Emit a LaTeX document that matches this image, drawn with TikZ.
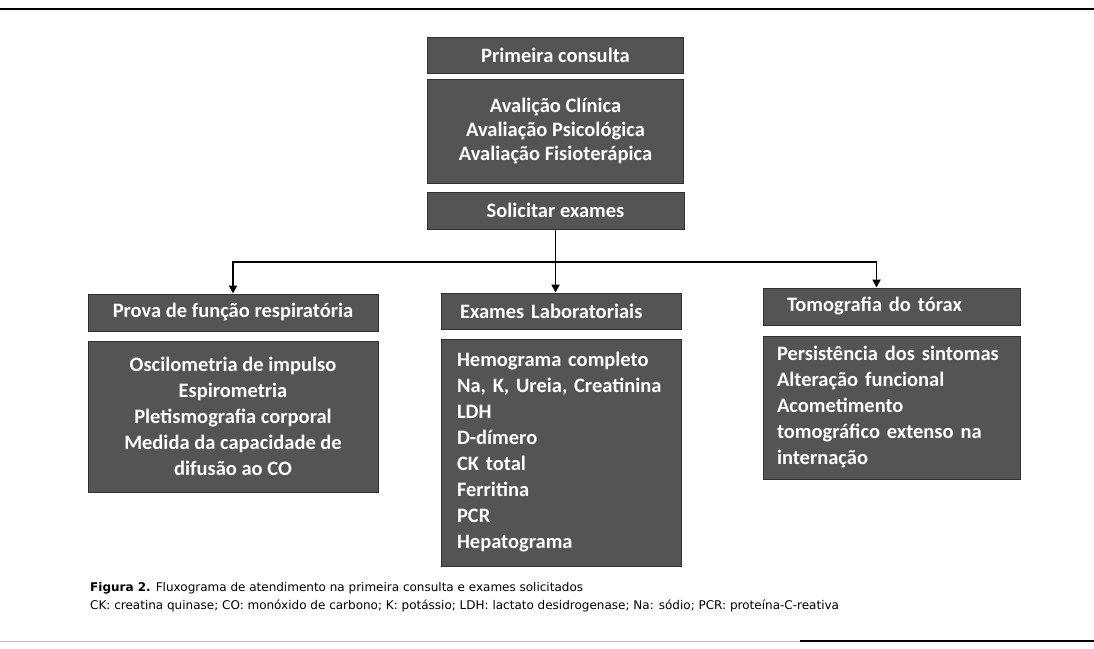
\documentclass[tikz,border=0pt]{standalone}
\usepackage{fontspec}
\newfontfamily\boxfont{Carlito}
\newfontfamily\capfont{DejaVu Sans}
\usetikzlibrary{positioning, arrows.meta}
\definecolor{boxgray}{RGB}{84,84,84}
\definecolor{boxedge}{RGB}{48,48,48}

\begin{document}
\begin{tikzpicture}[
    x=1pt, y=-1pt,
    >={Triangle[length=8pt, width=8pt]}, node distance=9pt,
    box/.style={draw=boxedge, line width=1pt, fill=boxgray, text=white, inner sep=0pt,
        align=center, font=\boxfont\bfseries\fontsize{20.5}{26}\selectfont},
    head/.style={box, minimum height=37pt},
    link/.style={->, line width=1.8pt}
]
    \useasboundingbox (0,0) rectangle (1094,648);

    % Rules of the figure
    \draw[line width=2.5pt] (0,9) -- (1094,9);
    \draw[line width=1pt, black!25] (0,641) -- (800,641);
    \draw[line width=2.5pt] (800,641) -- (1094,641);

    % First visit
    \node[head, minimum width=256pt, minimum height=36pt] (consulta) at (555.5,55) {Primeira consulta};
    \node[box, minimum width=256pt, minimum height=104pt, below=5pt of consulta,
          font=\boxfont\bfseries\fontsize{20.5}{24}\selectfont] (avaliacao)
        {Avalição Clínica\\ Avaliação Psicológica\\ Avaliação Fisioterápica};
    \node[head, minimum width=257pt, below=8pt of avaliacao] (solicitar) {Solicitar exames};

    % Branches
    \node[head, minimum width=290pt] (prova) at (233,312.5) {Prova de função respiratória};
    \node[box, minimum width=290pt, minimum height=151pt, below=of prova] (provaitens)
        {Oscilometria de impulso\\ Espirometria\\ Pletismografia corporal\\ Medida da capacidade de\\ difusão ao CO};

    \node[head, minimum height=36pt, text width=202pt, inner xsep=19pt, align=left] (lab) at (561,311) {Exames Laboratoriais};
    \node[box, minimum height=227pt, text width=208pt, inner xsep=16pt, align=left, below=of lab] (labitens)
        {Hemograma completo\\ Na, K, Ureia, Creatinina\\ LDH\\ D-dímero\\ CK total\\ Ferritina\\ PCR\\ Hepatograma};

    \node[head, text width=209pt, inner xsep=24pt, align=left] (tomo) at (891.5,306.5) {Tomografia do tórax};
    \node[box, minimum height=143pt, text width=229pt, inner xsep=14pt, align=left, below=10pt of tomo] (tomoitens)
        {Persistência dos sintomas\\ Alteração funcional\\ Acometimento\\ tomográfico extenso na\\ internação};

    % Connectors
    \coordinate (split) at (555.5,262);
    \draw[link] (solicitar) -- (solicitar |- lab.north);
    \draw[link] (split) -| (prova.north);
    \draw[link] (split) -| ([xshift=-15pt]tomo.north);

    % Caption
    \node[anchor=west, inner sep=0pt, align=left, font=\capfont\fontsize{12}{18}\selectfont] (legenda) at (90,597)
        {\textbf{Figura 2.} Fluxograma de atendimento na primeira consulta e exames solicitados\\
         CK: creatina quinase; CO: monóxido de carbono; K: potássio; LDH: lactato desidrogenase; Na: sódio; PCR: proteína-C-reativa};

\end{tikzpicture}
\end{document}
